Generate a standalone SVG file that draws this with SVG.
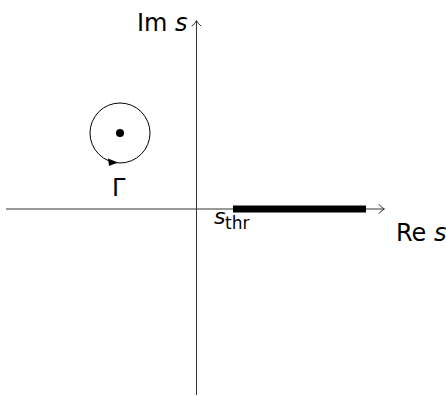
<svg xmlns="http://www.w3.org/2000/svg" width="446" height="396" viewBox="0 0 446 396">
<style>
.ax{stroke:#333;stroke-width:1;fill:none}
.tip{stroke:#333;stroke-width:1;fill:none;stroke-linecap:round;stroke-linejoin:round}
.t{font-family:"DejaVu Sans","Open Sans",sans-serif;fill:#000}
.it{font-style:italic}
</style>
<rect width="446" height="396" fill="#fff"/>
<g id="connectors">
<line class="ax" x1="6" y1="209" x2="384" y2="209"/>
<path class="tip" d="M379,204.5 Q381,207.5 384.5,209 Q381,210.5 379,213.5"/>
<line class="ax" x1="196.5" y1="395" x2="196.5" y2="21"/>
<path class="tip" d="M192,26 Q195,24 196.5,20.5 Q198,24 201,26"/>
</g>
<g id="cut">
<rect x="233" y="205.5" width="133" height="7" fill="#000"/>
</g>
<g id="contour">
<circle cx="120" cy="133" r="30" fill="none" stroke="#000" stroke-width="1"/>
<path d="M108,158.5 L118,162.5 L109,166 Z" fill="#000"/>
<circle cx="120" cy="133" r="4" fill="#000"/>
</g>
<g id="labels">
<text class="t" x="137" y="31" font-size="24">Im <tspan class="it">s</tspan></text>
<text class="t" x="396" y="241" font-size="24">Re <tspan class="it">s</tspan></text>
<text class="t" x="112" y="196" font-size="24">Γ</text>
<text class="t it" x="214" y="224" font-size="22">s</text>
<text class="t" x="225" y="229" font-size="17">thr</text>
</g>
</svg>
